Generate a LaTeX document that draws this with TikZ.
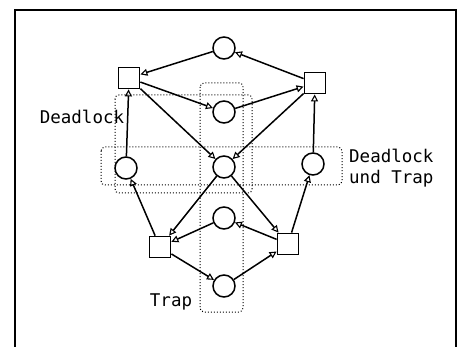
\documentclass[tikz,border=0pt]{standalone}
\usepackage{fontspec}
\newfontfamily\monofam{DejaVu Sans Mono}
\usetikzlibrary{arrows.meta}
\begin{document}
\begin{tikzpicture}[x=1pt,y=-1pt,
 place/.style={circle,draw,fill=white,line width=1.5pt,minimum size=22pt,inner sep=0pt},
 trans/.style={rectangle,draw,fill=white,line width=1.8pt,minimum size=21pt,inner sep=0pt},
 arc/.style={line width=1.5pt,-{Triangle[open,length=7pt,width=7pt,line width=1.1pt]}},
 region/.style={draw,dotted,line width=1pt,rounded corners=4pt},
 lbl/.style={font=\monofam\fontsize{17.5}{20}\selectfont,inner sep=0pt}]
\useasboundingbox (0,0) rectangle (460,347);
\draw[line width=1.8pt] (15,347) -- (15,10) -- (456,10) -- (456,347);
% regions
\draw[region] (200,83) rectangle (243,312);
\draw[region] (115,95) rectangle (252,193);
\draw[region] (101,147) rectangle (342,185);
% places
\node[place] (ptop) at (224,48) {};
\node[place] (pmid) at (224,112) {};
\node[place] (pleft) at (126,168) {};
\node[place] (pcen) at (224,167) {};
\node[place] (pright) at (313,164) {};
\node[place] (plow) at (224,218) {};
\node[place] (pbot) at (224,286) {};
% transitions
\node[trans] (tul) at (129,78) {};
\node[trans] (tur) at (315,83) {};
\node[trans] (tll) at (160,247) {};
\node[trans] (tlr) at (288,244) {};
% arcs
\draw[arc] (ptop) -- (tul);
\draw[arc] (tur) -- (ptop);
\draw[arc] (tul) -- (pmid);
\draw[arc] (pmid) -- (tur);
\draw[arc] (tul) -- (pcen);
\draw[arc] (tur) -- (pcen);
\draw[arc] (pleft) -- (tul);
\draw[arc] (pright) -- (tur);
\draw[arc] (pcen) -- (tll);
\draw[arc] (pcen) -- (tlr);
\draw[arc] (tll) -- (pleft);
\draw[arc] (tlr) -- (pright);
\draw[arc] (tlr) -- (plow);
\draw[arc] (plow) -- (tll);
\draw[arc] (tll) -- (pbot);
\draw[arc] (pbot) -- (tlr);
% labels
\node[lbl] (ldl) at (82,117) {Deadlock};
\node[lbl,anchor=west] (ldt1) at (349,156) {Deadlock};
\node[lbl,anchor=west] (ldt2) at (349,179) {und Trap};
\node[lbl] (ltr) at (171,302) {Trap};
\end{tikzpicture}
\end{document}
